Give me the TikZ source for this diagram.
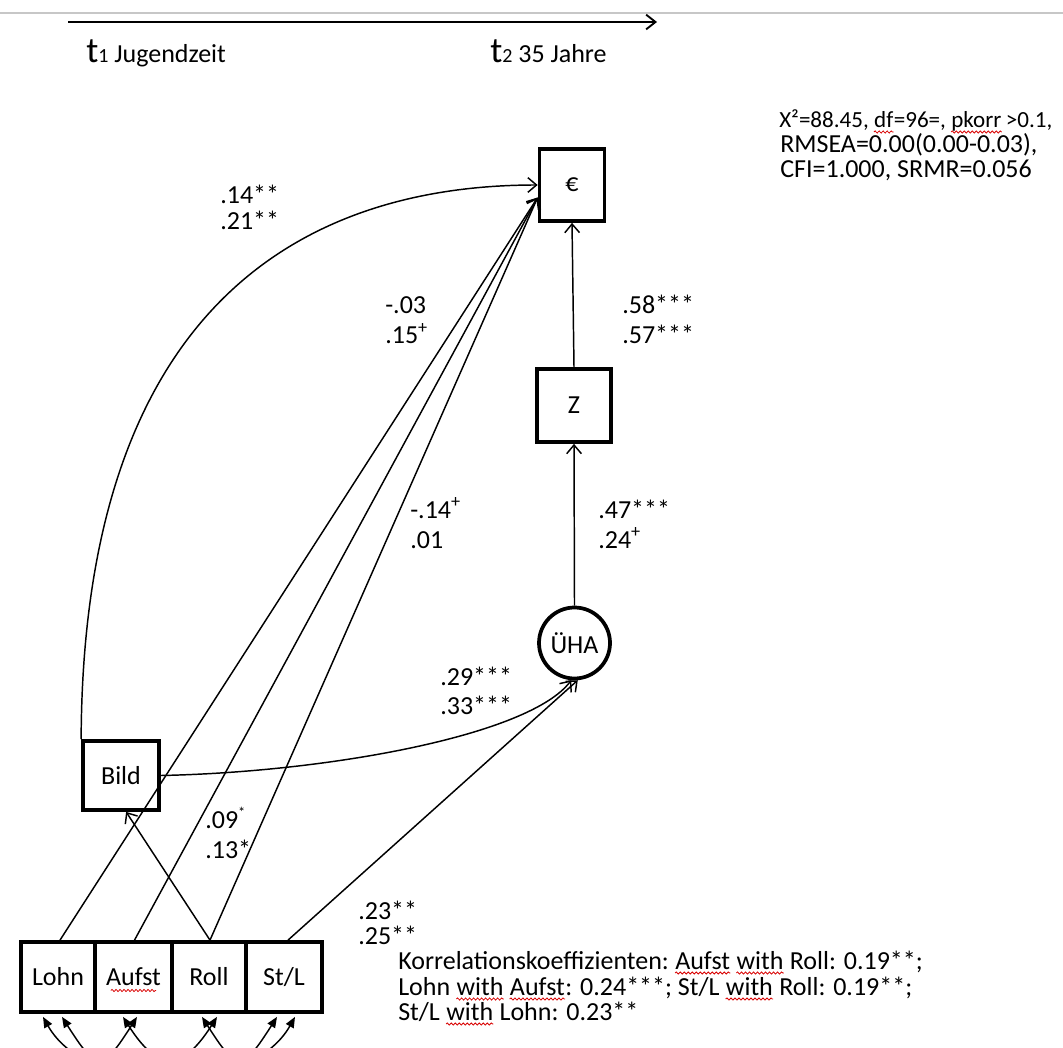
\documentclass[tikz,border=0pt]{standalone}
\usepackage{fontspec}
\setmainfont{Carlito}
\usetikzlibrary{arrows.meta,calc,decorations.pathmorphing}
\begin{document}
\begin{tikzpicture}[x=0.75pt,y=-0.75pt,
  font=\fontsize{19.5pt}{20pt}\selectfont,
  box/.style={draw,line width=2.8pt,inner sep=0pt},
  circ/.style={draw,circle,line width=2.8pt,inner sep=0pt},
  arr/.style={line width=1.1pt,-{Straight Barb[length=6.5pt,width=11pt]}},
  corr/.style={line width=1.1pt,{Triangle[length=8pt,width=6.5pt]}-{Triangle[length=8pt,width=6.5pt]}},
  lab/.style={anchor=base west,inner sep=0pt},
  sp/.style={anchor=base west,inner sep=0pt,xshift=4.4pt},
  nsp/.style={anchor=base west,inner sep=0pt},
  small/.style={font=\fontsize{17.3pt}{18pt}\selectfont},
  wave/.style={red!85!black,line width=0.6pt,decorate,decoration={snake,amplitude=0.8pt,segment length=3pt}}]
\useasboundingbox (0,0) rectangle (1063,1048);
\fill[white] (0,0) rectangle (1063,1048);
\clip (0,0) rectangle (1063,1048);

% header
\draw[line width=1.5pt,black!22] (0,13) -- (1063,13);
\coordinate (ta) at (68,22);
\coordinate (tb) at (657,22);
\draw[line width=1.4pt,-{Straight Barb[length=7pt,width=11pt]}] (ta) -- (tb);
\node[lab] (t1) at (86,63) {{\fontsize{27pt}{27pt}\selectfont t}{\fontsize{15pt}{15pt}\selectfont 1} Jugendzeit};
\node[lab] (t2) at (490,63) {{\fontsize{27pt}{27pt}\selectfont t}{\fontsize{15pt}{15pt}\selectfont 2} 35 Jahre};

% fit statistics
\node[lab,small] (s1a) at (779,128) {X²=88.45,};
\node[sp,small,xshift=-0.8pt] (s1b) at (s1a.base east) {df};
\node[nsp,small] (s1c) at (s1b.base east) {=96=,};
\node[sp,small,xshift=-0.8pt] (s1d) at (s1c.base east) {pkorr};
\node[sp,small,xshift=-1.4pt] (s1e) at (s1d.base east) {>0.1,};
\node[lab] (s2) at (780,153) {RMSEA=0.00(0.00-0.03),};
\node[lab] (s3) at (780,178) {CFI=1.000, SRMR=0.056};

% nodes
\node[box,minimum width=48.75pt,minimum height=54pt] (eur) at (572,185) {€};
\node[box,minimum width=55.5pt,minimum height=54.75pt] (z) at (574,405.5) {Z};
\node[circ,minimum size=53.25pt] (uha) at (574.5,643) {ÜHA};
\node[box,minimum width=57pt,minimum height=51.75pt] (bild) at (121,775.5) {Bild};
\node[box,minimum width=55.5pt,minimum height=52.5pt] (lohn) at (58,977) {Lohn};
\node[box,minimum width=57.75pt,minimum height=52.5pt] (aufst) at (133.5,977) {Aufst};
\node[box,minimum width=55.5pt,minimum height=52.5pt] (roll) at (209,977) {Roll};
\node[box,minimum width=57pt,minimum height=52.5pt] (stl) at (284,977) {St/L};

% paths
\draw[arr] (z.north) -- (eur.south);
\draw[arr] (uha.north) -- (z.south);
\draw[arr] (bild.north west) .. controls (83,280) and (330,185) .. (eur.west);
\draw[arr] (bild.east) .. controls (330,772) and (530,735) .. (uha.-95);
\draw[arr] ($(stl.north)+(4,0)$) -- (uha.-85);
\draw[arr] ($(lohn.north)+(2,0)$) -- (eur.200);
\draw[arr] ($(aufst.north)+(1,0)$) -- (eur.200);
\draw[arr] ($(roll.north)+(1,0)$) -- (eur.200);
\draw[arr] ($(roll.north)+(1,0)$) -- (bild.-82);

% correlations
\draw[corr] ($(lohn.south)+(-15,3)$) .. controls +(45,80) and +(-45,80) .. ($(stl.south)+(11,3)$);
\draw[corr] ($(lohn.south)+(4,3)$) .. controls +(35,55) and +(-35,55) .. ($(aufst.south)+(3.5,3)$);
\draw[corr] ($(aufst.south)+(-10.5,3)$) .. controls +(35,55) and +(-35,55) .. ($(roll.south)+(8,3)$);
\draw[corr] ($(roll.south)+(-7,3)$) .. controls +(35,55) and +(-35,55) .. ($(stl.south)+(-7,3)$);

% coefficients
\node[lab] (c1a) at (220,204) {.14**};
\node[lab] (c1b) at (220,230) {.21**};
\node[lab] (c2a) at (385,314) {-.03};
\node[lab] (c2b) at (385,344) {.15\textsuperscript{+}};
\node[lab] (c3a) at (622,314) {.58***};
\node[lab] (c3b) at (622,344) {.57***};
\node[lab] (c4a) at (410,518) {-.14\textsuperscript{+}};
\node[lab] (c4b) at (410,548) {.01};
\node[lab] (c5a) at (598,518) {.47***};
\node[lab] (c5b) at (598,548) {.24\textsuperscript{+}};
\node[lab] (c6a) at (440,685) {.29***};
\node[lab] (c6b) at (440,714) {.33***};
\node[lab] (c7a) at (205,828) {.09\textsuperscript{\scalebox{0.8}{*}}};
\node[lab] (c7b) at (205,858) {.13*};
\node[lab] (c8a) at (358,919) {.23**};
\node[lab] (c8b) at (358,944) {.25**};

% correlation text
\node[lab] (k1a) at (398,969) {Korrelationskoeffizienten:};
\node[sp] (k1b) at (k1a.base east) {Aufst};
\node[sp] (k1c) at (k1b.base east) {with};
\node[sp] (k1d) at (k1c.base east) {Roll: 0.19**;};
\node[lab] (k2a) at (398,995) {Lohn};
\node[sp] (k2b) at (k2a.base east) {with};
\node[sp] (k2c) at (k2b.base east) {Aufst};
\node[nsp] (k2d) at (k2c.base east) {: 0.24***; St/L};
\node[sp] (k2e) at (k2d.base east) {with};
\node[sp] (k2f) at (k2e.base east) {Roll: 0.19**;};
\node[lab] (k3a) at (398,1020) {St/L};
\node[sp] (k3b) at (k3a.base east) {with};
\node[sp] (k3c) at (k3b.base east) {Lohn: 0.23**};

% spell-check marks
\foreach \w in {s1b,s1d,k1b,k1c,k2b,k2c,k2e,k3b}
  \draw[wave] ([yshift=-3pt]\w.base west) -- ([yshift=-3pt]\w.base east);
\draw[wave] ([xshift=-17pt,yshift=-3.5pt]aufst.base) -- ([xshift=17pt,yshift=-3.5pt]aufst.base);
\end{tikzpicture}
\end{document}
